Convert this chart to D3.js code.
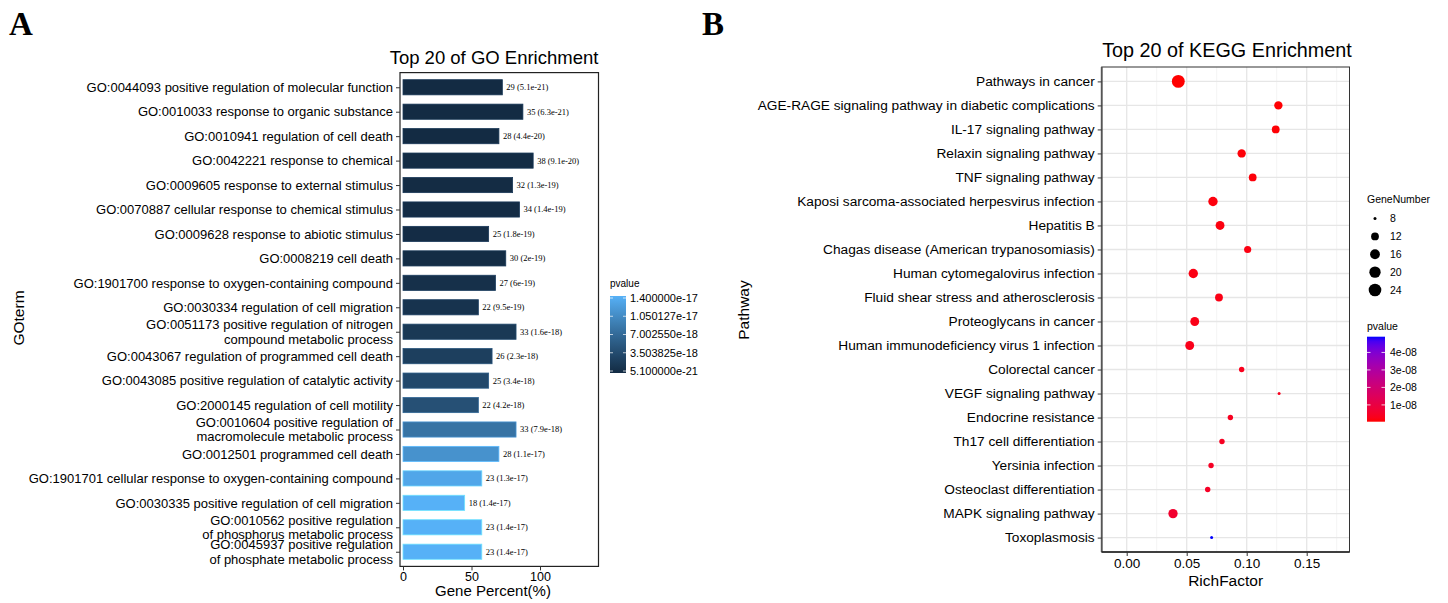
<!DOCTYPE html>
<html><head><meta charset="utf-8">
<script src="https://cdn.jsdelivr.net/npm/d3@7"></script>
<style>
body{margin:0;background:#fff}
svg{display:block}
text{font-family:"Liberation Sans",Arial,sans-serif;fill:#000}
</style>
</head><body>
<svg id="chart" width="1448" height="603"></svg>
<script>
// ---------------- GO data ----------------
const goTerms = [
  "GO:0044093 positive regulation of molecular function",
  "GO:0010033 response to organic substance",
  "GO:0010941 regulation of cell death",
  "GO:0042221 response to chemical",
  "GO:0009605 response to external stimulus",
  "GO:0070887 cellular response to chemical stimulus",
  "GO:0009628 response to abiotic stimulus",
  "GO:0008219 cell death",
  "GO:1901700 response to oxygen-containing compound",
  "GO:0030334 regulation of cell migration",
  "GO:0051173 positive regulation of nitrogen\ncompound metabolic process",
  "GO:0043067 regulation of programmed cell death",
  "GO:0043085 positive regulation of catalytic activity",
  "GO:2000145 regulation of cell motility",
  "GO:0010604 positive regulation of\nmacromolecule metabolic process",
  "GO:0012501 programmed cell death",
  "GO:1901701 cellular response to oxygen-containing compound",
  "GO:0030335 positive regulation of cell migration",
  "GO:0010562 positive regulation\nof phosphorus metabolic process",
  "GO:0045937 positive regulation\nof phosphate metabolic process"
];
const goCounts = [29,35,28,38,32,34,25,30,27,22,33,26,25,22,33,28,23,18,23,23];
const goPercent = [72.5,87.5,70,95,80,85,62.5,75,67.5,55,82.5,65,62.5,55,82.5,70,57.5,45,57.5,57.5];
const goPvalues = [5.1e-21,6.3e-21,4.4e-20,9.1e-20,1.3e-19,1.4e-19,1.8e-19,2e-19,6e-19,9.5e-19,
                   1.6e-18,2.3e-18,3.4e-18,4.2e-18,7.9e-18,1.1e-17,1.3e-17,1.4e-17,1.4e-17,1.4e-17];
const goXTicks = [0,50,100];
const goLegendTicks = [1.4e-17, 1.050127e-17, 7.00255e-18, 3.503825e-18, 5.1e-21];
const goLegendTickLabels = ["1.400000e-17","1.050127e-17","7.002550e-18","3.503825e-18","5.100000e-21"];

// ---------------- KEGG data ----------------
const keggPathways = [
  "Pathways in cancer",
  "AGE-RAGE signaling pathway in diabetic complications",
  "IL-17 signaling pathway",
  "Relaxin signaling pathway",
  "TNF signaling pathway",
  "Kaposi sarcoma-associated herpesvirus infection",
  "Hepatitis B",
  "Chagas disease (American trypanosomiasis)",
  "Human cytomegalovirus infection",
  "Fluid shear stress and atherosclerosis",
  "Proteoglycans in cancer",
  "Human immunodeficiency virus 1 infection",
  "Colorectal cancer",
  "VEGF signaling pathway",
  "Endocrine resistance",
  "Th17 cell differentiation",
  "Yersinia infection",
  "Osteoclast differentiation",
  "MAPK signaling pathway",
  "Toxoplasmosis"
];
const keggRichFactor = [0.043,0.1264,0.1242,0.0958,0.105,0.0719,0.0778,0.1008,0.0555,0.0769,
                        0.0567,0.0525,0.0958,0.127,0.0864,0.0794,0.0703,0.0675,0.0386,0.0708];
const keggGeneNumber = [25,13,12,13,12,15,14,11,15,12,14,14,9,8,9,9,9,9,15,8];
const keggPvalue = [4e-10,6e-10,8e-10,1.0e-9,1.2e-9,1.4e-9,1.6e-9,1.8e-9,2.0e-9,2.2e-9,
                    2.5e-9,2.8e-9,3.1e-9,3.4e-9,3.7e-9,4.0e-9,4.3e-9,4.6e-9,6.0e-9,4.9e-8];
const keggXTicks = [0,0.05,0.10,0.15];
const keggXTickLabels = ["0.00","0.05","0.10","0.15"];
const keggSizeBreaks = [8,12,16,20,24];
const keggColorBreaks = [4e-8,3e-8,2e-8,1e-8];
const keggColorBreakLabels = ["4e-08","3e-08","2e-08","1e-08"];

const svg = d3.select("#chart");
const defs = svg.append("defs");

// panel letters
svg.append("text").attr("x",9).attr("y",35).style("font-family","'Liberation Serif',serif")
  .attr("font-weight","bold").attr("font-size",33).text("A");
svg.append("text").attr("x",702).attr("y",35).style("font-family","'Liberation Serif',serif")
  .attr("font-weight","bold").attr("font-size",33).text("B");

// ================= GO panel =================
const gP = {left:400, right:598.5, top:72.6, bottom:566.4};
const gx = d3.scaleLinear().domain([-2.2,142.7]).range([gP.left,gP.right]);
const gy = d3.scalePoint().domain(goTerms).range([gP.top,gP.bottom]).padding(0.6);
const gColor = d3.scaleLinear().domain([d3.min(goPvalues), d3.max(goPvalues)])
  .range(["#132B43","#56B1F7"]).interpolate(d3.interpolateLab);
const barH = gy.step()*0.62;

const gG = svg.append("g");
goTerms.forEach((t,i)=>{
  const c = gColor(goPvalues[i]);
  gG.append("rect").attr("x",gx(0)).attr("y",gy(t)-barH/2)
    .attr("width",gx(goPercent[i])-gx(0)).attr("height",barH)
    .attr("fill",c).attr("stroke",d3.color(c).brighter(0.7)).attr("stroke-width",0.8);
  gG.append("text").attr("x",gx(goPercent[i])+4).attr("y",gy(t)).attr("dy","0.35em")
    .style("font-family","'Liberation Serif',serif").attr("font-size",8.5)
    .text(`${goCounts[i]} (${goPvalues[i].toExponential()})`);
});
gG.append("rect").attr("x",gP.left).attr("y",gP.top).attr("width",gP.right-gP.left)
  .attr("height",gP.bottom-gP.top).attr("fill","none").attr("stroke","#222").attr("stroke-width",1.2);

// y axis
const gyAxis = svg.append("g").attr("transform",`translate(${gP.left},0)`)
  .call(d3.axisLeft(gy).tickSize(4).tickPadding(3));
gyAxis.select(".domain").remove();
gyAxis.selectAll(".tick line").attr("stroke","#333");
gyAxis.selectAll(".tick text").attr("font-size",13).style("font-family","'Liberation Sans',Arial,sans-serif")
  .attr("fill","#000")
  .each(function(d){
    const lines = d.split("\n");
    const el = d3.select(this).text(null);
    const lh = 14.3;
    lines.forEach((ln,k)=>{
      el.append("tspan").attr("x",-7).attr("dy", k===0 ? (0.32 - (lines.length-1)*lh/2/13)+"em" : lh+"px").text(ln);
    });
  });
// x axis
const gxAxis = svg.append("g").attr("transform",`translate(0,${gP.bottom})`)
  .call(d3.axisBottom(gx).tickValues(goXTicks).tickSize(4).tickPadding(2));
gxAxis.select(".domain").remove();
gxAxis.selectAll(".tick line").attr("stroke","#333");
gxAxis.selectAll(".tick text").attr("font-size",12.5).style("font-family","'Liberation Sans',Arial,sans-serif").attr("fill","#000");
svg.append("text").attr("x",493).attr("y",596).attr("text-anchor","middle")
  .attr("font-size",15).text("Gene Percent(%)");
svg.append("text").attr("transform","translate(24,318) rotate(-90)").attr("text-anchor","middle")
  .attr("font-size",15.5).text("GOterm");
svg.append("text").attr("x",494).attr("y",64).attr("text-anchor","middle")
  .attr("font-size",18.5).text("Top 20 of GO Enrichment");

// GO legend
const gl = {x:610, top:298, bottom:371, w:16};
svg.append("text").attr("x",gl.x).attr("y",287).attr("font-size",10).text("pvalue");
const gLegY = d3.scaleLinear().domain([d3.min(goPvalues), d3.max(goPvalues)]).range([gl.bottom, gl.top]);
const lg1 = defs.append("linearGradient").attr("id","goGrad").attr("x1",0).attr("y1",1).attr("x2",0).attr("y2",0);
d3.range(0,1.0001,0.1).forEach(t=>{
  lg1.append("stop").attr("offset",t).attr("stop-color",gColor(gLegY.invert(gl.bottom - t*(gl.bottom-gl.top))));
});
svg.append("rect").attr("x",gl.x).attr("y",gl.top-2).attr("width",gl.w).attr("height",gl.bottom-gl.top+4).attr("fill","url(#goGrad)");
goLegendTicks.forEach((v,i)=>{
  const y = gLegY(v);
  svg.append("line").attr("x1",gl.x).attr("x2",gl.x+3).attr("y1",y).attr("y2",y).attr("stroke","#fff").attr("stroke-opacity",0.7);
  svg.append("line").attr("x1",gl.x+gl.w-3).attr("x2",gl.x+gl.w).attr("y1",y).attr("y2",y).attr("stroke","#fff").attr("stroke-opacity",0.7);
  svg.append("text").attr("x",gl.x+gl.w+4).attr("y",y).attr("dy","0.35em").attr("font-size",11).text(goLegendTickLabels[i]);
});

// ================= KEGG panel =================
const kP = {left:1101.7, right:1349.5, top:67, bottom:552};
const kx = d3.scaleLinear().domain([-0.02083,0.18567]).range([kP.left,kP.right]);
const ky = d3.scalePoint().domain(keggPathways).range([kP.top,kP.bottom]).padding(0.6);
const kColor = d3.scaleLinear().domain([d3.min(keggPvalue), d3.max(keggPvalue)])
  .range(["red","blue"]).interpolate(d3.interpolateLab);
const kSize = d3.scaleSqrt().domain([0, d3.max(keggGeneNumber)-d3.min(keggGeneNumber)]).range([0,4.95]);
const rad = v => 1.5 + kSize(v - d3.min(keggGeneNumber));

const kG = svg.append("g");
kG.append("rect").attr("x",kP.left).attr("y",kP.top).attr("width",kP.right-kP.left)
  .attr("height",kP.bottom-kP.top).attr("fill","#fff");
[0.025,0.075,0.125,0.175].forEach(v=>{
  kG.append("line").attr("x1",kx(v)).attr("x2",kx(v)).attr("y1",kP.top).attr("y2",kP.bottom)
    .attr("stroke","#f0f0f0").attr("stroke-width",0.8);
});
keggXTicks.forEach(v=>{
  kG.append("line").attr("x1",kx(v)).attr("x2",kx(v)).attr("y1",kP.top).attr("y2",kP.bottom)
    .attr("stroke","#e6e6e6").attr("stroke-width",1.3);
});
keggPathways.forEach(p=>{
  kG.append("line").attr("x1",kP.left).attr("x2",kP.right).attr("y1",ky(p)).attr("y2",ky(p))
    .attr("stroke","#e6e6e6").attr("stroke-width",1.3);
});
keggPathways.forEach((p,i)=>{
  kG.append("circle").attr("cx",kx(keggRichFactor[i])).attr("cy",ky(p)).attr("r",rad(keggGeneNumber[i]))
    .attr("fill",kColor(keggPvalue[i]));
});
kG.append("rect").attr("x",kP.left).attr("y",kP.top).attr("width",kP.right-kP.left)
  .attr("height",kP.bottom-kP.top).attr("fill","none").attr("stroke","#333").attr("stroke-width",1);
kG.append("line").attr("x1",kP.left).attr("x2",kP.left).attr("y1",kP.top).attr("y2",kP.bottom).attr("stroke","#555").attr("stroke-width",1.8);
kG.append("line").attr("x1",kP.left).attr("x2",kP.right).attr("y1",kP.bottom).attr("y2",kP.bottom).attr("stroke","#222").attr("stroke-width",1.6);

const kyAxis = svg.append("g").attr("transform",`translate(${kP.left},0)`)
  .call(d3.axisLeft(ky).tickSize(4).tickPadding(3));
kyAxis.select(".domain").remove();
kyAxis.selectAll(".tick line").attr("stroke","#333");
kyAxis.selectAll(".tick text").attr("font-size",13.7).style("font-family","'Liberation Sans',Arial,sans-serif").attr("fill","#000");
const kxAxis = svg.append("g").attr("transform",`translate(0,${kP.bottom})`)
  .call(d3.axisBottom(kx).tickValues(keggXTicks).tickFormat((d,i)=>keggXTickLabels[i]).tickSize(4).tickPadding(2));
kxAxis.select(".domain").remove();
kxAxis.selectAll(".tick line").attr("stroke","#333");
kxAxis.selectAll(".tick text").attr("font-size",13.5).style("font-family","'Liberation Sans',Arial,sans-serif").attr("fill","#000");
svg.append("text").attr("x",(kP.left+kP.right)/2).attr("y",586).attr("text-anchor","middle")
  .attr("font-size",15.5).text("RichFactor");
svg.append("text").attr("transform","translate(749,310) rotate(-90)").attr("text-anchor","middle")
  .attr("font-size",15.5).text("Pathway");
svg.append("text").attr("x",1227).attr("y",57).attr("text-anchor","middle")
  .attr("font-size",19.8).text("Top 20 of KEGG Enrichment");

// size legend
svg.append("text").attr("x",1367).attr("y",203).attr("font-size",10.5).text("GeneNumber");
const sizeLegY = d3.scalePoint().domain(keggSizeBreaks).range([218.5,290]);
keggSizeBreaks.forEach(v=>{
  svg.append("circle").attr("cx",1375).attr("cy",sizeLegY(v)).attr("r",rad(v)).attr("fill","#000");
  svg.append("text").attr("x",1390).attr("y",sizeLegY(v)).attr("dy","0.35em").attr("font-size",10.5).text(v);
});
// color legend
const kl = {x:1367, top:336.7, bottom:421.7, w:18};
svg.append("text").attr("x",kl.x).attr("y",330).attr("font-size",10.5).text("pvalue");
const kLegY = d3.scaleLinear().domain([d3.min(keggPvalue), d3.max(keggPvalue)]).range([kl.bottom, kl.top]);
const lg2 = defs.append("linearGradient").attr("id","kGrad").attr("x1",0).attr("y1",1).attr("x2",0).attr("y2",0);
d3.range(0,1.0001,0.05).forEach(t=>{
  lg2.append("stop").attr("offset",t).attr("stop-color",kColor(kLegY.invert(kl.bottom - t*(kl.bottom-kl.top))));
});
svg.append("rect").attr("x",kl.x).attr("y",kl.top).attr("width",kl.w).attr("height",kl.bottom-kl.top).attr("fill","url(#kGrad)");
keggColorBreaks.forEach((v,i)=>{
  const y = kLegY(v);
  svg.append("line").attr("x1",kl.x).attr("x2",kl.x+3.5).attr("y1",y).attr("y2",y).attr("stroke","#fff").attr("stroke-opacity",0.8);
  svg.append("line").attr("x1",kl.x+kl.w-3.5).attr("x2",kl.x+kl.w).attr("y1",y).attr("y2",y).attr("stroke","#fff").attr("stroke-opacity",0.8);
  svg.append("text").attr("x",kl.x+kl.w+5).attr("y",y).attr("dy","0.35em").attr("font-size",10.5).text(keggColorBreakLabels[i]);
});
</script>
</body></html>
